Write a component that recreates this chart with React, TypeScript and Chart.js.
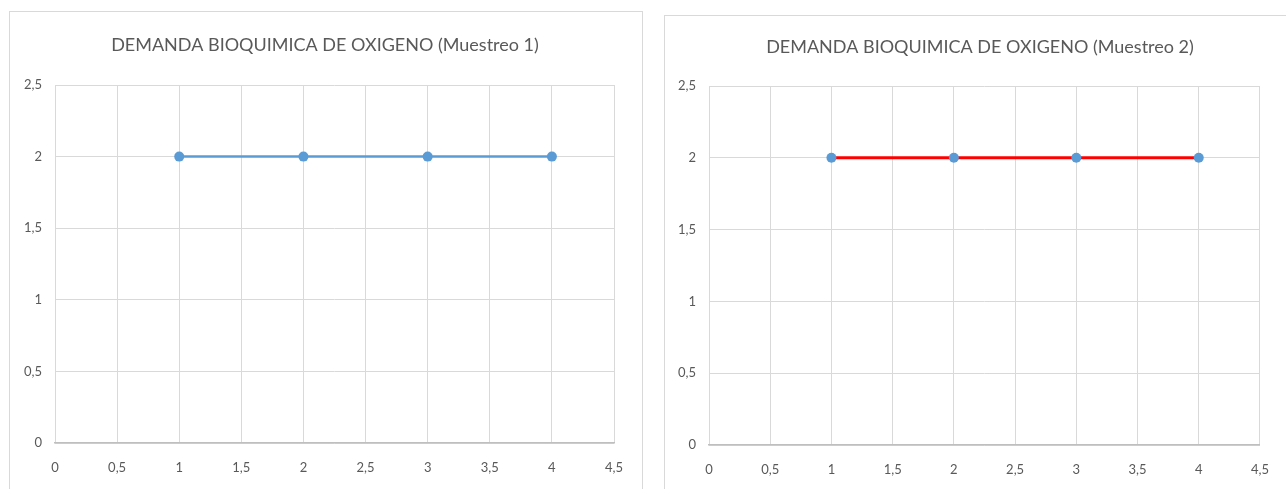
import React, { useEffect, useRef } from "react";
import { Chart, registerables } from "chart.js";

Chart.register(...registerables);

// ---- data ----
const xValues = [1, 2, 3, 4];
const muestreo1 = [2, 2, 2, 2];
const muestreo2 = [2, 2, 2, 2];
const title1 = "DEMANDA BIOQUIMICA DE OXIGENO (Muestreo 1)";
const title2 = "DEMANDA BIOQUIMICA DE OXIGENO (Muestreo 2)";
const xTicks = [0, 0.5, 1, 1.5, 2, 2.5, 3, 3.5, 4, 4.5];
const yTicks = [0, 0.5, 1, 1.5, 2, 2.5];

const FONT = "Lato, 'Liberation Sans', sans-serif";
const TEXT = "#595959";
const GRID = "#d9d9d9";
const AXIS = "#bfbfbf";
const POINT = "#5b9bd5";

const fmt = (v: number) => String(v).replace(".", ",");

type PanelProps = {
  left: number;
  top: number;
  width: number;
  height: number;
  title: string;
  values: number[];
  lineColor: string;
  lineWidth: number;
  padRight: number;
  padTop: number;
  yWidth: number;
  xHeight: number;
  titleX: number;
  titleY: number;
  noRightBorder?: boolean;
};

function Panel(p: PanelProps) {
  const ref = useRef<HTMLCanvasElement | null>(null);
  const innerW = p.width - 1 - (p.noRightBorder ? 0 : 1);
  const innerH = p.height - 1;

  useEffect(() => {
    if (!ref.current) return;
    const titlePlugin = {
      id: "panelTitle",
      afterDraw(chart: any) {
        const ctx = chart.ctx;
        ctx.save();
        ctx.font = `normal 18px ${FONT}`;
        ctx.fillStyle = TEXT;
        ctx.textAlign = "center";
        ctx.textBaseline = "middle";
        ctx.fillText(p.title, p.titleX, p.titleY);
        ctx.restore();
      },
    };
    const chart = new Chart(ref.current, {
      type: "line",
      data: {
        datasets: [
          {
            data: xValues.map((x, i) => ({ x, y: p.values[i] })),
            borderColor: p.lineColor,
            borderWidth: p.lineWidth,
            backgroundColor: POINT,
            pointBackgroundColor: POINT,
            pointBorderColor: POINT,
            pointRadius: 5,
            pointBorderWidth: 0,
            tension: 0,
            fill: false,
          },
        ],
      },
      options: {
        animation: false,
        responsive: false,
        layout: {
          padding: { left: 0, right: p.padRight, top: p.padTop, bottom: 0 },
        },
        plugins: {
          legend: { display: false },
          tooltip: { enabled: false },
          title: { display: false },
        },
        scales: {
          x: {
            type: "linear",
            min: 0,
            max: 4.5,
            afterBuildTicks: (s: any) => {
              s.ticks = xTicks.map((v) => ({ value: v }));
            },
            afterFit: (s: any) => {
              s.height = p.xHeight;
            },
            grid: { color: GRID, lineWidth: 1, drawTicks: false },
            border: { display: true, color: AXIS, width: 1.5 },
            ticks: {
              color: TEXT,
              font: { family: FONT, size: 13 },
              padding: 17,
              maxRotation: 0,
              autoSkip: false,
              callback: (v: any) => fmt(Number(v)),
            },
          },
          y: {
            type: "linear",
            min: 0,
            max: 2.5,
            afterBuildTicks: (s: any) => {
              s.ticks = yTicks.map((v) => ({ value: v }));
            },
            afterFit: (s: any) => {
              s.width = p.yWidth;
            },
            grid: { color: GRID, lineWidth: 1, drawTicks: false },
            border: { display: false },
            ticks: {
              color: TEXT,
              font: { family: FONT, size: 13 },
              padding: 13,
              autoSkip: false,
              callback: (v: any) => fmt(Number(v)),
            },
          },
        },
      },
      plugins: [titlePlugin],
    } as any);
    return () => chart.destroy();
  }, []);

  return (
    <div
      style={{
        position: "absolute",
        left: p.left,
        top: p.top,
        width: p.width,
        height: p.height,
        boxSizing: "border-box",
        borderTop: `1px solid ${GRID}`,
        borderLeft: `1px solid ${GRID}`,
        borderRight: p.noRightBorder ? "none" : `1px solid ${GRID}`,
        borderBottom: "none",
        background: "#fff",
        overflow: "hidden",
      }}
    >
      <canvas ref={ref} width={innerW} height={innerH} style={{ display: "block" }} />
    </div>
  );
}

export default function App() {
  return (
    <div style={{ position: "absolute", left: 0, top: 0, width: 1286, height: 489, overflow: "hidden", background: "#fff" }}>
      <Panel
        left={9}
        top={11}
        width={634}
        height={478}
        title={title1}
        values={muestreo1}
        lineColor={POINT}
        lineWidth={2.5}
        padRight={28}
        padTop={73}
        yWidth={45}
        xHeight={46}
        titleX={315}
        titleY={33}
      />
      <Panel
        left={664}
        top={15}
        width={622}
        height={474}
        title={title2}
        values={muestreo2}
        lineColor="#ff0000"
        lineWidth={3}
        padRight={17}
        padTop={70}
        yWidth={44}
        xHeight={44}
        titleX={315}
        titleY={31}
        noRightBorder
      />
    </div>
  );
}
